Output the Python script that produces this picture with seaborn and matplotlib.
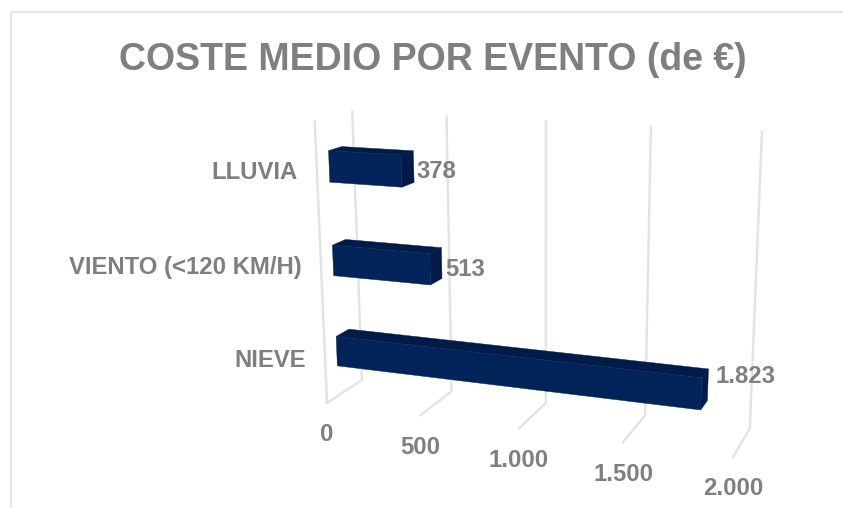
import numpy as np
import pandas as pd
import seaborn as sns
from matplotlib import pyplot as plt
from matplotlib.patches import Polygon

categories = ['LLUVIA', 'VIENTO (<120 KM/H)', 'NIEVE']
values = [378, 513, 1823]
ticks = [0, 500, 1000, 1500, 2000]
tick_labels = ['0', '500', '1.000', '1.500', '2.000']
title = 'COSTE MEDIO POR EVENTO (de €)'

FRONT = '#00245A'
DARK = '#001B47'
GRID = '#E3E3E3'
TEXT = '#7F7F7F'
BAR_WIDTH = 0.33
DEPTH = (0.32, 0.68)

# corners of the 3d box: value, band (0 floor, 1 top), depth (0 back, 1 front) -> pixel
box_3d = [(0, 0, 0), (2000, 0, 0), (0, 1, 0), (2000, 1, 0), (0, 0, 1), (2000, 0, 1), (0, 1, 1)]
box_px = [(362, 380), (750, 428), (352, 112), (762, 132), (327, 403), (733, 457), (315, 121)]


def fit_camera(pts, px):
    rows = []
    for (v, h, d), (x, y) in zip(pts, px):
        p = [v / 2000, h, d, 1]
        rows.append(p + [0, 0, 0, 0] + [-x * q for q in p])
        rows.append([0, 0, 0, 0] + p + [-y * q for q in p])
    return np.linalg.svd(np.array(rows, dtype=float))[2][-1].reshape(3, 4)


camera = fit_camera(box_3d, box_px)


def project(v, c, d):
    # c is the category position of the seaborn axis, -0.5 top .. 2.5 floor
    h = (2.5 - c) / 3
    x, y, w = camera @ np.array([v / 2000, h, d, 1])
    return x / w, y / w


plt.rcParams['font.family'] = ['Liberation Sans', 'DejaVu Sans']
plt.rcParams['font.weight'] = 'bold'

fig = plt.figure(figsize=(8.43, 5.08), dpi=100)

# flat barplot only gives the bar extents, the canvas draws them in perspective
df = pd.DataFrame({'categoria': categories, 'coste': values})
ax_bar = fig.add_axes([0, 0, 1, 1])
sns.barplot(data=df, x='coste', y='categoria', orient='h', width=BAR_WIDTH, ax=ax_bar)
ax_bar.set_xlim(0, 2000)
ax_bar.set_ylim(2.5, -0.5)
ax_bar.set_visible(False)

ax = fig.add_axes([0, 0, 1, 1])
ax.set_xlim(0, 843)
ax.set_ylim(508, 0)
ax.axis('off')

# chart frame, only left and top are inside the crop
ax.plot([10.5, 10.5, 843], [508, 11.5, 11.5], color='#E6E6E6', lw=1.6, solid_joinstyle='miter')

ax.text(433, 60, title, fontsize=27, color=TEXT, ha='center', va='center')

# grid
for t, lab in zip(ticks, tick_labels):
    top = project(t, -0.5, 0)
    low = project(t, 2.5, 0)
    front = project(t, 2.5, 1)
    ax.plot([top[0], low[0], front[0]], [top[1], low[1], front[1]], color=GRID, lw=1.7, zorder=1)
    ax.text(front[0], front[1] + 32, lab, fontsize=17.2, color=TEXT, ha='center', va='center')
top = project(0, -0.5, 1)
low = project(0, 2.5, 1)
ax.plot([top[0], low[0]], [top[1], low[1]], color=GRID, lw=1.7, zorder=1)

label_offset = [(3, 5), (4, 6), (8, -8)]
for i, p in enumerate(ax_bar.patches[:len(values)]):
    v0, v1 = p.get_x(), p.get_x() + p.get_width()
    c0, c1 = p.get_y(), p.get_y() + p.get_height()
    dback, dfront = DEPTH
    ff = [project(v0, c0, dfront), project(v1, c0, dfront), project(v1, c1, dfront), project(v0, c1, dfront)]
    tt = [project(v0, c0, dfront), project(v1, c0, dfront), project(v1, c0, dback), project(v0, c0, dback)]
    ss = [project(v1, c0, dfront), project(v1, c0, dback), project(v1, c1, dback), project(v1, c1, dfront)]
    ax.add_patch(Polygon(tt, closed=True, fc=DARK, ec=DARK, lw=0.3, zorder=3))
    ax.add_patch(Polygon(ss, closed=True, fc=DARK, ec=DARK, lw=0.3, zorder=3))
    ax.add_patch(Polygon(ff, closed=True, fc=FRONT, ec=FRONT, lw=0.3, zorder=3))

    end = project(v1, (c0 + c1) / 2, dback)
    ox, oy = label_offset[i]
    ax.text(end[0] + ox, end[1] + oy, f'{values[i]:,.0f}'.replace(',', '.'), fontsize=17.2,
            color=TEXT, ha='left', va='center', zorder=4)

    base = project(0, (c0 + c1) / 2, 1)
    ax.text(base[0] - 19, base[1] + 2, categories[i], fontsize=17.2, color=TEXT, ha='right', va='center')

plt.savefig('out.png', dpi=100)
